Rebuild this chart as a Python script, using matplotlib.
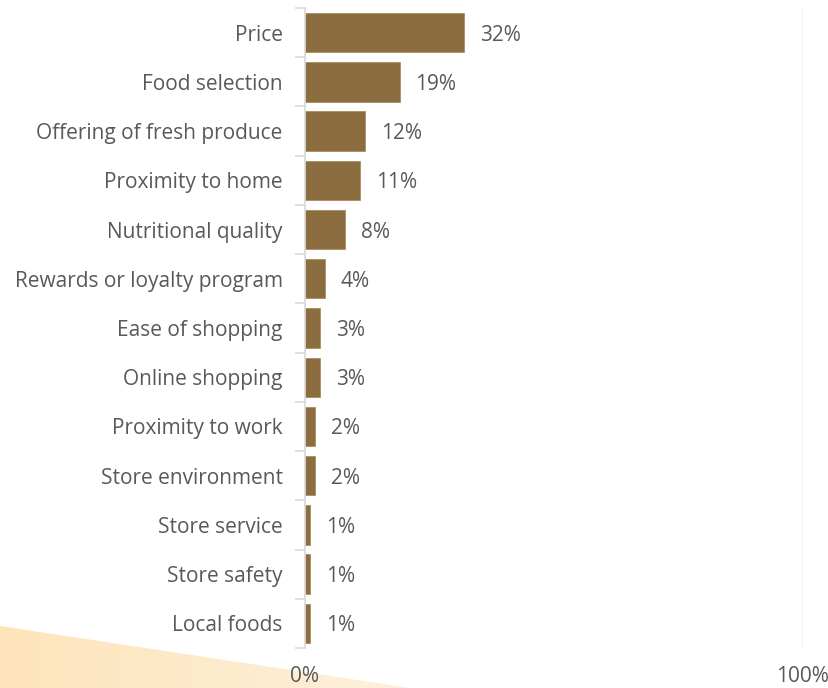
import numpy as np
import matplotlib.pyplot as plt
from matplotlib.colors import LinearSegmentedColormap
from matplotlib.patches import Polygon
from matplotlib.ticker import FixedLocator

plt.rcParams['font.family'] = ['Open Sans', 'DejaVu Sans']

# Share of respondents naming each factor as most important
factors = ["Price", "Food selection", "Offering of fresh produce", "Proximity to home",
           "Nutritional quality", "Rewards or loyalty program", "Ease of shopping",
           "Online shopping", "Proximity to work", "Store environment",
           "Store service", "Store safety", "Local foods"]
shares = [32, 19, 12, 11, 8, 4, 3, 3, 2, 2, 1, 1, 1]
x_ticks = [0, 100]
x_ticklabels = ["0%", "100%"]

W, H = 829, 688
FS = 15
GREY = "#595959"
fig = plt.figure(figsize=(W / 100, H / 100), dpi=100)

# soft orange wedge in the lower-left corner
deco = fig.add_axes([0, 0, 1, 1], zorder=0)
deco.set_xlim(0, W)
deco.set_ylim(H, 0)
deco.axis("off")
grad = np.linspace(0, 1, 256).reshape(1, -1)
wedge_cmap = LinearSegmentedColormap.from_list("wedge", ["#FDE4BA", "#FEF1DD"])
img = deco.imshow(grad, extent=[0, 420, H, 620], cmap=wedge_cmap, aspect="auto", zorder=0)
wedge = Polygon([[0, 626], [410, H], [0, H]], closed=True, transform=deco.transData,
                facecolor="none", edgecolor="none")
deco.add_patch(wedge)
img.set_clip_path(wedge)

ax = fig.add_axes([305 / W, 40 / H, (803 - 305) / W, (648 - 8) / H], zorder=1)
ax.patch.set_alpha(0)

y = np.arange(len(factors))
ax.barh(y, shares, height=0.8, color="#8B6D3F", edgecolor="#A88D5E", linewidth=0.6)
for yi, v in zip(y, shares):
    ax.text(v + 3.2, yi, f"{v}%", va="center_baseline", ha="left", fontsize=FS, color=GREY)

ax.set_ylim(len(factors) - 0.5, -0.5)
ax.set_xlim(0, 100)
ax.set_yticks(y)
ax.set_yticklabels(factors, fontsize=FS, color=GREY)
ax.tick_params(axis="y", which="major", length=0, pad=16)
ax.yaxis.set_minor_locator(FixedLocator(np.arange(-0.5, len(factors), 1)))
ax.tick_params(axis="y", which="minor", length=7, color="#D9D9D9", width=1.2)

ax.set_xticks(x_ticks)
ax.set_xticklabels(x_ticklabels, fontsize=FS, color=GREY)
ax.tick_params(axis="x", length=0, pad=13)
ax.xaxis.grid(True, color="#EDEDED", linewidth=1.2)
ax.set_axisbelow(True)

for side in ["top", "right", "bottom"]:
    ax.spines[side].set_visible(False)
ax.spines["left"].set_color("#D9D9D9")
ax.spines["left"].set_linewidth(1.2)

fig.savefig("out.png", dpi=100)
